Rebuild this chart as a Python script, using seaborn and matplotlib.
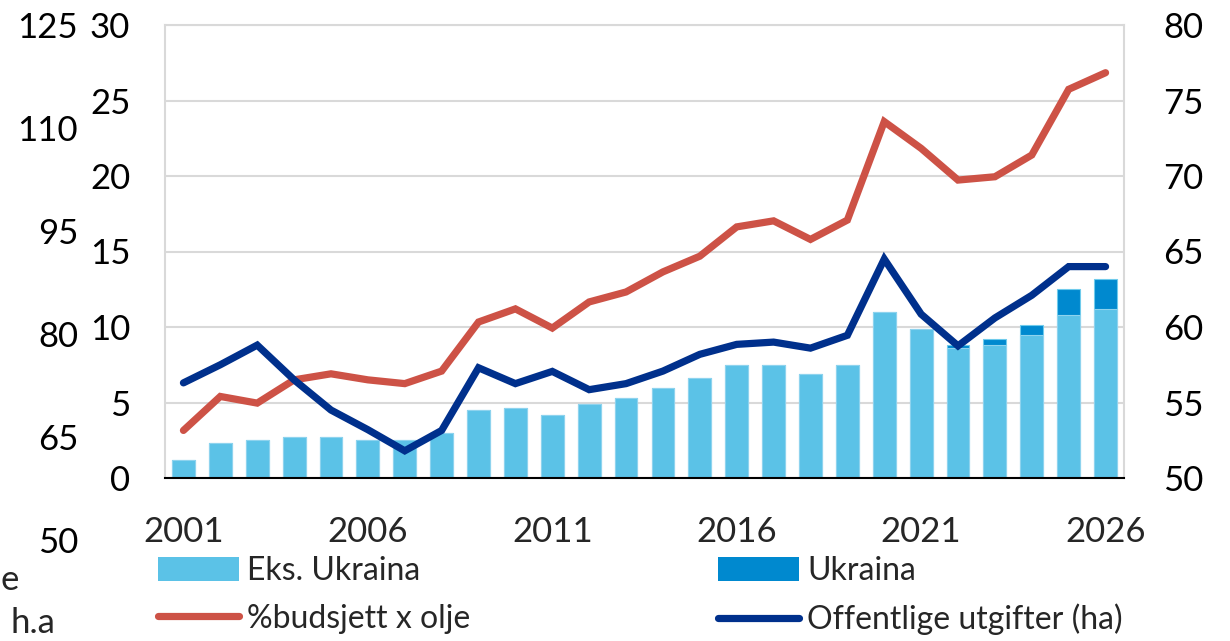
import matplotlib
matplotlib.use("Agg")
import matplotlib.pyplot as plt
import seaborn as sns
import pandas as pd
import numpy as np
from matplotlib.patches import Patch
from matplotlib.lines import Line2D

years = list(range(2001, 2027))
eks_ukraina = [1.2, 2.3, 2.5, 2.7, 2.7, 2.5, 2.5, 3.0, 4.5, 4.65, 4.2, 4.87, 5.32, 5.98,
               6.62, 7.5, 7.5, 6.86, 7.5, 11.0, 9.9, 8.6, 8.83, 9.45, 10.8, 11.2]
ukraina = [0, 0, 0, 0, 0, 0, 0, 0, 0, 0, 0, 0, 0, 0, 0, 0, 0, 0, 0, 0, 0, 0.2, 0.4, 0.65, 1.7, 1.95]
budsjett_x_olje = [53.15, 55.4, 54.96, 56.5, 56.9, 56.5, 56.25, 57.08, 60.33, 61.2, 59.93, 61.66,
                   62.32, 63.65, 64.69, 66.63, 67.03, 65.8, 67.08, 73.6, 71.83, 69.73, 69.95,
                   71.39, 75.74, 76.84]
offentlige_utgifter = [56.3, 57.5, 58.8, 56.5, 54.5, 53.2, 51.8, 53.15, 57.3, 56.25, 57.06, 55.85,
                       56.25, 57.08, 58.19, 58.85, 59.0, 58.6, 59.45, 64.5, 60.85, 58.75, 60.6,
                       62.1, 64.0, 64.0]
left_ticks = [0, 5, 10, 15, 20, 25, 30]
right_ticks = [50, 55, 60, 65, 70, 75, 80]
outer_ticks = [50, 65, 80, 95, 110, 125]
label_years = [2001, 2006, 2011, 2016, 2021, 2026]

sns.set_theme(style="white")
plt.rcParams['font.family'] = ['Lato', 'DejaVu Sans']

C_LIGHT = '#5BC2E7'
C_DARK = '#0089CF'
C_RED = '#CD5246'
C_BLUE = '#00308C'
C_GRID = '#D9D9D9'
TICK_FS = 25
LEG_FS = 23

W, H = 1230, 641
fig = plt.figure(figsize=(W / 100, H / 100), dpi=100)
L, R, T, B = 165, 1124, 25, 478
ax = fig.add_axes([L / W, 1 - B / H, (R - L) / W, (B - T) / H])

df = pd.DataFrame({
    'year': [str(y) for y in years],
    'eks': eks_ukraina,
    'total': [a + b for a, b in zip(eks_ukraina, ukraina)],
})

sns.barplot(data=df, x='year', y='total', color=C_DARK, saturation=1, width=0.62,
            edgecolor='#6FCBEC', linewidth=0.8, ax=ax, zorder=2)
sns.barplot(data=df, x='year', y='eks', color=C_LIGHT, saturation=1, width=0.62,
            edgecolor='#8ED3EE', linewidth=0.8, ax=ax, zorder=3)

ax.set_xlim(-0.5, len(years) - 0.5)
ax.set_ylim(0, 30)
ax.set_yticks(left_ticks)
ax.set_xlabel('')
ax.set_ylabel('')
ax.yaxis.grid(True, color=C_GRID, linewidth=1.5, zorder=0)
ax.set_axisbelow(True)
for s in ['left', 'top', 'right']:
    ax.spines[s].set_color(C_GRID)
    ax.spines[s].set_linewidth(1.5)
ax.spines['bottom'].set_color('black')
ax.spines['bottom'].set_linewidth(1.5)
ax.spines['bottom'].set_zorder(5)
ax.tick_params(axis='y', length=0, pad=25, labelsize=TICK_FS, colors='black')

idx = [years.index(y) for y in label_years]
ax.set_xticks([i - 0.5 for i in idx])
ax.set_xticklabels([''] * len(idx))
ax.set_xticks(idx, minor=True)
ax.set_xticklabels([str(y) for y in label_years], minor=True)
ax.tick_params(axis='x', which='major', direction='in', length=10, width=1.2, color='black')
ax.tick_params(axis='x', which='minor', length=0, pad=27, labelsize=TICK_FS)

ax2 = ax.twinx()
pos = list(range(len(years)))
ldf = pd.DataFrame({'pos': pos, 'red': budsjett_x_olje, 'blue': offentlige_utgifter})
sns.lineplot(data=ldf, x='pos', y='red', color=C_RED, linewidth=5.2, ax=ax2,
             solid_capstyle='round', solid_joinstyle='miter')
sns.lineplot(data=ldf, x='pos', y='blue', color=C_BLUE, linewidth=5.2, ax=ax2,
             solid_capstyle='round', solid_joinstyle='miter')
ax2.set_ylim(50, 80)
ax2.set_yticks(right_ticks)
ax2.set_xlim(-0.5, len(years) - 0.5)
ax2.set_xlabel('')
ax2.set_ylabel('')
ax2.grid(False)
for s in ax2.spines.values():
    s.set_visible(False)
ax2.tick_params(axis='y', length=0, pad=28, labelsize=TICK_FS, colors='black')

# outer left axis
OT, OB = 25, 540
ax3 = fig.add_axes([85 / W, 1 - OB / H, 0.0005, (OB - OT) / H])
ax3.set_ylim(50, 125)
ax3.set_yticks(outer_ticks)
ax3.set_xticks([])
ax3.patch.set_visible(False)
for s in ax3.spines.values():
    s.set_visible(False)
ax3.tick_params(axis='y', length=0, pad=5, labelsize=TICK_FS, colors='black')

fig.text(1 / W, 1 - 580 / H, 'e', fontsize=TICK_FS, ha='left', va='center')
fig.text(10 / W, 2 / H, 'h.a', fontsize=TICK_FS, ha='left', va='bottom')

# legends
h1 = [Patch(facecolor=C_LIGHT, edgecolor='none'), Line2D([], [], color=C_RED, lw=5.2, solid_capstyle='round')]
h2 = [Patch(facecolor=C_DARK, edgecolor='none'), Line2D([], [], color=C_BLUE, lw=5.2, solid_capstyle='round')]
common = dict(frameon=False, fontsize=LEG_FS, handlelength=2.55, handleheight=0.75,
              handletextpad=0.25, labelspacing=0.55, borderpad=0, borderaxespad=0, loc='upper left')
fig.legend(h1, ['Eks. Ukraina', '%budsjett x olje'], bbox_to_anchor=(158 / W, 1 - 556 / H), **common)
fig.legend(h2, ['Ukraina', 'Offentlige utgifter (ha)'], bbox_to_anchor=(718 / W, 1 - 556 / H), **common)

fig.savefig('out.png', dpi=100)
